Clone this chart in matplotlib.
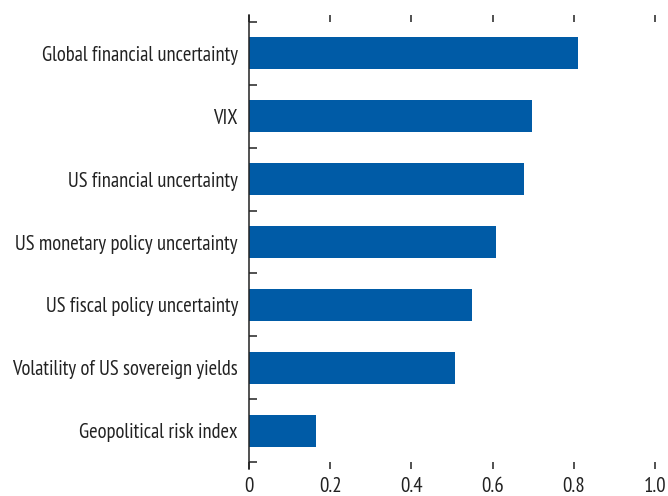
import numpy as np
import matplotlib
matplotlib.use("Agg")
import matplotlib.pyplot as plt
from matplotlib.ticker import FixedLocator

# data
labels = [
    "Global financial uncertainty",
    "VIX",
    "US financial uncertainty",
    "US monetary policy uncertainty",
    "US fiscal policy uncertainty",
    "Volatility of US sovereign yields",
    "Geopolitical risk index",
]
values = [0.81, 0.696, 0.677, 0.608, 0.549, 0.507, 0.165]
xticks = [0, 0.2, 0.4, 0.6, 0.8, 1.0]
xticklabels = ["0", "0.2", "0.4", "0.6", "0.8", "1.0"]

bar_color = "#005BA6"
text_color = "#222222"

plt.rcParams['font.family'] = ['PT Sans Narrow', 'DejaVu Sans']

fig = plt.figure(figsize=(6.68, 4.96), dpi=100)
ax = fig.add_axes([249 / 668, 1 - 469 / 496, 406 / 668, 454 / 496])

y = np.arange(len(labels))
ax.barh(y, values, height=0.51, color=bar_color)

ax.set_xlim(0, 1.0)
ax.set_ylim(len(labels) - 0.5 + 0.11, -0.5 - 0.11)

ax.set_yticks(y)
ax.set_yticklabels(labels, fontsize=14.8, color=text_color)
ax.yaxis.set_minor_locator(FixedLocator(np.arange(len(labels) + 1) - 0.5))
ax.tick_params(axis='y', which='major', length=0, pad=8)
ax.tick_params(axis='y', which='minor', direction='in', length=6, width=1.1, color=text_color)

ax.set_xticks(xticks)
ax.set_xticklabels(xticklabels, fontsize=15, color=text_color)
ax.tick_params(axis='x', which='major', direction='in', length=5, width=1.1,
               top=True, bottom=True, color=text_color, pad=6)

for s in ['top', 'right', 'bottom']:
    ax.spines[s].set_visible(False)
ax.spines['left'].set_linewidth(1.1)
ax.spines['left'].set_color(text_color)

fig.savefig("out.png", dpi=100)
